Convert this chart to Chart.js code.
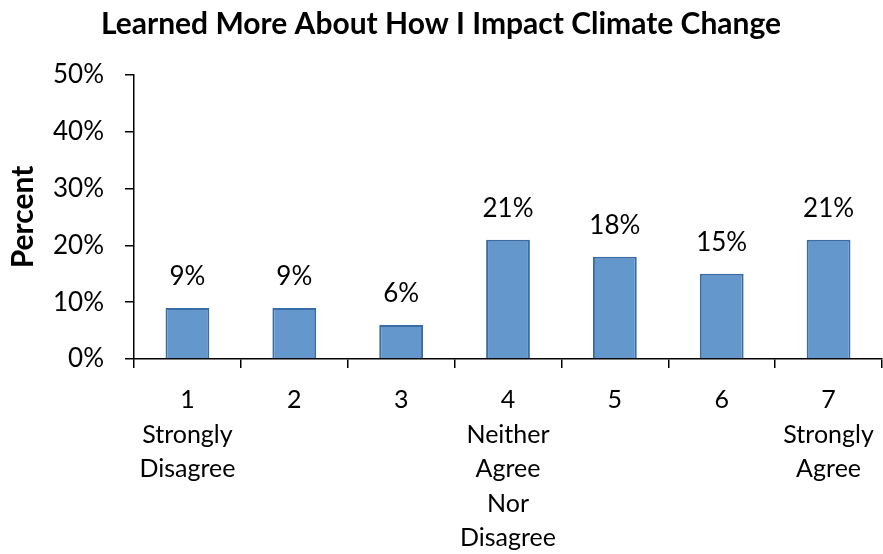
<!DOCTYPE html>
<html>
<head>
<meta charset="utf-8">
<script src="https://cdn.jsdelivr.net/npm/chart.js@4"></script>
<style>
  html, body { margin: 0; padding: 0; background: #ffffff; }
  #wrap { width: 883px; height: 554px; }
</style>
</head>
<body>
<div id="wrap"><canvas id="chart" width="883" height="554"></canvas></div>
<script>
// Survey responses on a 7-point agreement scale
const categories = [
  ['1', 'Strongly', 'Disagree'],
  ['2'],
  ['3'],
  ['4', 'Neither', 'Agree', 'Nor', 'Disagree'],
  ['5'],
  ['6'],
  ['7', 'Strongly', 'Agree']
];
const percentValues = [9, 9, 6, 21, 18, 15, 21];
const yTickValues = [0, 10, 20, 30, 40, 50];

const FONT = 'Lato, "Open Sans", sans-serif';

// Percentage labels written above each bar
const barValueLabels = {
  id: 'barValueLabels',
  afterDatasetsDraw(chart) {
    const ctx = chart.ctx;
    const meta = chart.getDatasetMeta(0);
    ctx.save();
    ctx.font = '26px ' + FONT;
    ctx.fillStyle = '#000000';
    ctx.textAlign = 'center';
    ctx.textBaseline = 'middle';
    meta.data.forEach((bar, i) => {
      ctx.fillText(percentValues[i] + '%', bar.x, bar.y - 31);
    });
    ctx.restore();
  }
};

new Chart(document.getElementById('chart'), {
  type: 'bar',
  data: {
    labels: categories,
    datasets: [{
      data: percentValues,
      backgroundColor: '#6497CB',
      borderColor: '#3A6DA6',
      borderWidth: 2,
      categoryPercentage: 1.0,
      barPercentage: 0.41
    }]
  },
  options: {
    responsive: false,
    animation: false,
    layout: { padding: { left: 0, right: 1, top: 0, bottom: 0 } },
    plugins: {
      legend: { display: false },
      tooltip: { enabled: false },
      title: {
        display: true,
        text: 'Learned More About How I Impact Climate Change',
        color: '#000000',
        font: { family: FONT, size: 30, weight: 'bold', lineHeight: 1.2 },
        padding: { top: 6, bottom: 33 }
      }
    },
    scales: {
      x: {
        grid: {
          drawOnChartArea: false,
          drawTicks: true,
          tickLength: 9,
          color: '#000000',
          lineWidth: 1.5
        },
        border: { display: true, color: '#000000', width: 1.5 },
        ticks: {
          color: '#000000',
          padding: 15,
          maxRotation: 0,
          autoSkip: false,
          font: { family: FONT, size: 25, lineHeight: 1.38 }
        },
        afterFit(scale) {
          scale.height = 195;
          // let the last label run to the canvas edge
          scale.paddingLeft = 0;
          scale.paddingRight = 0;
        }
      },
      y: {
        min: 0,
        max: 50,
        afterBuildTicks(scale) {
          scale.ticks = yTickValues.map(v => ({ value: v }));
        },
        grid: {
          drawOnChartArea: false,
          drawTicks: true,
          tickLength: 9,
          color: '#000000',
          lineWidth: 1.5
        },
        border: { display: true, color: '#000000', width: 1.5 },
        ticks: {
          color: '#000000',
          padding: 21,
          font: { family: FONT, size: 26 },
          callback: v => v + '%'
        },
        title: {
          display: true,
          text: 'Percent',
          color: '#000000',
          font: { family: FONT, size: 30, weight: 'bold', lineHeight: 1.2 },
          padding: { top: 5, bottom: 0 }
        },
        afterFit(scale) { scale.width = 134; }
      }
    }
  },
  plugins: [barValueLabels]
});
</script>
</body>
</html>
